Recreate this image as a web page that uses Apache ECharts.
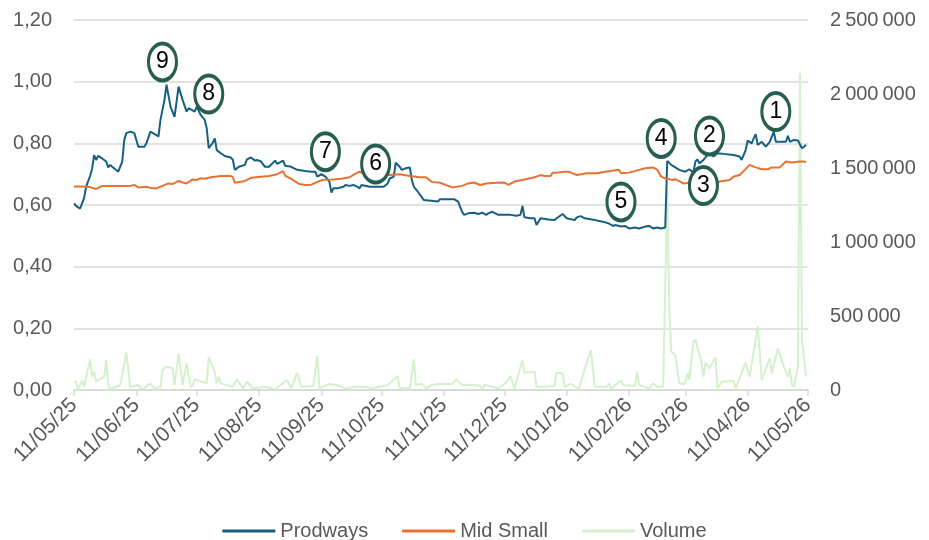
<!DOCTYPE html>
<html><head><meta charset="utf-8">
<script src="https://cdn.jsdelivr.net/npm/echarts@6/dist/echarts.min.js"></script>
<style>html,body{margin:0;padding:0;background:#fff}#c{width:929px;height:540px}</style>
</head><body><div id="c"></div>
<script>
const tickDates = ['2025-05-11','2025-06-11','2025-07-11','2025-08-11','2025-09-11','2025-10-11','2025-11-11','2025-12-11','2026-01-11','2026-02-11','2026-03-11','2026-04-11','2026-05-11'];

const prodDates = ['2025-05-11','2025-05-12','2025-05-14','2025-05-16','2025-05-17','2025-05-19','2025-05-20','2025-05-21','2025-05-22','2025-05-23','2025-05-25','2025-05-27','2025-05-28','2025-05-29','2025-05-30','2025-06-02','2025-06-04','2025-06-05','2025-06-06','2025-06-08','2025-06-10','2025-06-12','2025-06-15','2025-06-16','2025-06-18','2025-06-21','2025-06-22','2025-06-23','2025-06-25','2025-06-26','2025-06-28','2025-06-30','2025-07-02','2025-07-04','2025-07-06','2025-07-07','2025-07-10','2025-07-11','2025-07-13','2025-07-15','2025-07-16','2025-07-17','2025-07-19','2025-07-20','2025-07-21','2025-07-23','2025-07-25','2025-07-28','2025-07-29','2025-07-30','2025-08-01','2025-08-04','2025-08-05','2025-08-07','2025-08-09','2025-08-10','2025-08-12','2025-08-14','2025-08-16','2025-08-19','2025-08-20','2025-08-23','2025-08-24','2025-08-27','2025-08-30','2025-09-03','2025-09-06','2025-09-08','2025-09-09','2025-09-11','2025-09-13','2025-09-15','2025-09-16','2025-09-17','2025-09-19','2025-09-22','2025-09-23','2025-09-25','2025-09-27','2025-09-29','2025-09-30','2025-10-01','2025-10-05','2025-10-08','2025-10-12','2025-10-14','2025-10-15','2025-10-17','2025-10-18','2025-10-20','2025-10-21','2025-10-23','2025-10-25','2025-10-26','2025-10-27','2025-10-29','2025-10-31','2025-11-01','2025-11-08','2025-11-09','2025-11-16','2025-11-18','2025-11-20','2025-11-21','2025-11-23','2025-11-26','2025-11-28','2025-11-30','2025-12-02','2025-12-03','2025-12-05','2025-12-08','2025-12-14','2025-12-17','2025-12-19','2025-12-20','2025-12-21','2025-12-24','2025-12-26','2025-12-27','2025-12-29','2026-01-02','2026-01-05','2026-01-06','2026-01-09','2026-01-11','2026-01-15','2026-01-16','2026-01-18','2026-01-20','2026-01-25','2026-01-29','2026-02-01','2026-02-03','2026-02-04','2026-02-07','2026-02-09','2026-02-11','2026-02-14','2026-02-16','2026-02-19','2026-02-21','2026-02-23','2026-02-25','2026-02-27','2026-03-01','2026-03-02','2026-03-04','2026-03-08','2026-03-11','2026-03-13','2026-03-15','2026-03-16','2026-03-17','2026-03-18','2026-03-20','2026-03-22','2026-03-23','2026-03-25','2026-03-27','2026-03-31','2026-04-04','2026-04-07','2026-04-08','2026-04-10','2026-04-11','2026-04-13','2026-04-14','2026-04-15','2026-04-16','2026-04-18','2026-04-20','2026-04-22','2026-04-23','2026-04-24','2026-04-25','2026-04-30','2026-05-01','2026-05-02','2026-05-04','2026-05-06','2026-05-08','2026-05-09','2026-05-10'];
const prodValues = [0.605,0.597,0.588,0.622,0.659,0.694,0.717,0.762,0.746,0.759,0.751,0.741,0.722,0.730,0.724,0.708,0.741,0.811,0.833,0.838,0.833,0.789,0.789,0.800,0.838,0.827,0.822,0.876,0.941,0.990,0.919,0.886,0.984,0.941,0.903,0.914,0.903,0.919,0.892,0.876,0.849,0.784,0.802,0.816,0.778,0.768,0.759,0.754,0.746,0.714,0.724,0.730,0.748,0.754,0.744,0.746,0.741,0.724,0.724,0.744,0.733,0.744,0.727,0.724,0.714,0.710,0.708,0.708,0.692,0.700,0.692,0.676,0.640,0.654,0.654,0.659,0.665,0.662,0.665,0.659,0.654,0.665,0.659,0.659,0.659,0.670,0.686,0.692,0.737,0.724,0.714,0.719,0.722,0.681,0.659,0.643,0.625,0.616,0.611,0.619,0.619,0.611,0.578,0.568,0.573,0.575,0.571,0.575,0.568,0.573,0.578,0.568,0.568,0.565,0.568,0.597,0.560,0.557,0.557,0.535,0.557,0.553,0.551,0.557,0.571,0.557,0.551,0.560,0.564,0.557,0.551,0.546,0.540,0.532,0.535,0.530,0.532,0.524,0.527,0.524,0.530,0.532,0.524,0.527,0.524,0.527,0.743,0.730,0.714,0.708,0.716,0.705,0.741,0.748,0.735,0.746,0.762,0.770,0.757,0.768,0.765,0.762,0.757,0.746,0.778,0.809,0.800,0.816,0.830,0.795,0.805,0.789,0.805,0.822,0.838,0.805,0.805,0.824,0.805,0.811,0.809,0.784,0.789,0.795];

const midDates = ['2025-05-11','2025-05-14','2025-05-19','2025-05-22','2025-05-25','2025-05-31','2025-06-08','2025-06-10','2025-06-12','2025-06-16','2025-06-19','2025-06-21','2025-06-24','2025-06-27','2025-06-29','2025-07-02','2025-07-04','2025-07-06','2025-07-09','2025-07-11','2025-07-13','2025-07-15','2025-07-18','2025-07-23','2025-07-28','2025-07-29','2025-07-30','2025-08-04','2025-08-07','2025-08-12','2025-08-16','2025-08-20','2025-08-23','2025-08-24','2025-08-27','2025-08-31','2025-09-03','2025-09-06','2025-09-09','2025-09-12','2025-09-17','2025-09-21','2025-09-25','2025-09-28','2025-09-30','2025-10-03','2025-10-06','2025-10-10','2025-10-15','2025-10-20','2025-10-25','2025-10-30','2025-11-02','2025-11-05','2025-11-09','2025-11-15','2025-11-20','2025-11-23','2025-11-26','2025-11-29','2025-12-02','2025-12-07','2025-12-11','2025-12-13','2025-12-16','2025-12-21','2025-12-26','2025-12-29','2025-12-31','2026-01-03','2026-01-04','2026-01-06','2026-01-10','2026-01-12','2026-01-16','2026-01-21','2026-01-26','2026-01-30','2026-02-06','2026-02-07','2026-02-11','2026-02-16','2026-02-19','2026-02-23','2026-02-25','2026-02-27','2026-03-01','2026-03-05','2026-03-06','2026-03-10','2026-03-13','2026-03-15','2026-03-20','2026-03-24','2026-03-28','2026-04-02','2026-04-04','2026-04-07','2026-04-12','2026-04-15','2026-04-18','2026-04-21','2026-04-23','2026-04-27','2026-04-30','2026-05-03','2026-05-07','2026-05-09','2026-05-10'];
const midValues = [0.660,0.660,0.658,0.652,0.662,0.662,0.662,0.665,0.657,0.659,0.654,0.654,0.662,0.670,0.668,0.678,0.673,0.670,0.683,0.681,0.687,0.685,0.690,0.694,0.694,0.690,0.672,0.678,0.688,0.692,0.694,0.700,0.710,0.695,0.685,0.668,0.665,0.666,0.675,0.682,0.683,0.685,0.690,0.702,0.708,0.700,0.704,0.700,0.697,0.700,0.694,0.690,0.690,0.675,0.672,0.657,0.662,0.670,0.673,0.665,0.670,0.672,0.673,0.665,0.676,0.683,0.690,0.697,0.694,0.694,0.705,0.705,0.708,0.708,0.697,0.703,0.703,0.708,0.714,0.703,0.705,0.714,0.719,0.722,0.714,0.692,0.686,0.681,0.684,0.670,0.672,0.665,0.654,0.659,0.676,0.681,0.692,0.697,0.730,0.722,0.716,0.716,0.722,0.722,0.741,0.738,0.741,0.741,0.738];

const volDates = ['2025-05-11','2025-05-12','2025-05-13','2025-05-15','2025-05-16','2025-05-19','2025-05-20','2025-05-21','2025-05-22','2025-05-26','2025-05-27','2025-05-28','2025-05-29','2025-06-03','2025-06-06','2025-06-08','2025-06-12','2025-06-14','2025-06-18','2025-06-20','2025-06-23','2025-06-24','2025-06-26','2025-06-29','2025-06-30','2025-07-02','2025-07-04','2025-07-06','2025-07-08','2025-07-09','2025-07-10','2025-07-16','2025-07-17','2025-07-20','2025-07-21','2025-07-22','2025-07-23','2025-07-29','2025-07-31','2025-08-03','2025-08-05','2025-08-08','2025-08-14','2025-08-19','2025-08-25','2025-08-27','2025-08-30','2025-09-01','2025-09-07','2025-09-09','2025-09-10','2025-09-15','2025-09-20','2025-09-23','2025-09-28','2025-10-03','2025-10-06','2025-10-14','2025-10-19','2025-10-20','2025-10-25','2025-10-27','2025-10-28','2025-10-31','2025-11-02','2025-11-05','2025-11-09','2025-11-15','2025-11-17','2025-11-20','2025-11-24','2025-11-29','2025-11-30','2025-12-01','2025-12-08','2025-12-12','2025-12-14','2025-12-16','2025-12-20','2025-12-21','2025-12-26','2025-12-27','2025-12-31','2026-01-05','2026-01-06','2026-01-09','2026-01-10','2026-01-13','2026-01-17','2026-01-23','2026-01-25','2026-01-31','2026-02-01','2026-02-02','2026-02-07','2026-02-08','2026-02-14','2026-02-15','2026-02-16','2026-02-21','2026-02-23','2026-02-25','2026-02-28','2026-03-02','2026-03-03','2026-03-04','2026-03-06','2026-03-08','2026-03-10','2026-03-11','2026-03-12','2026-03-13','2026-03-15','2026-03-16','2026-03-19','2026-03-20','2026-03-21','2026-03-23','2026-03-26','2026-03-27','2026-03-29','2026-04-04','2026-04-05','2026-04-10','2026-04-12','2026-04-16','2026-04-18','2026-04-22','2026-04-23','2026-04-26','2026-04-29','2026-05-01','2026-05-02','2026-05-03','2026-05-04','2026-05-06','2026-05-07','2026-05-08','2026-05-10'];
const volValues = [56000,56000,5000,63000,22000,207000,90000,124000,56000,90000,203000,45000,5000,34000,252000,22000,34000,5000,45000,10000,22000,135000,158000,147000,34000,248000,34000,180000,22000,29000,72000,45000,221000,124000,45000,90000,45000,22000,72000,11000,56000,11000,22000,5000,68000,11000,117000,22000,27000,230000,11000,41000,29000,11000,22000,22000,11000,34000,95000,11000,11000,207000,34000,41000,11000,34000,41000,41000,72000,34000,36000,29000,3000,36000,11000,52000,95000,11000,203000,117000,124000,22000,22000,27000,117000,113000,22000,41000,11000,270000,22000,22000,45000,11000,63000,34000,29000,124000,34000,11000,45000,22000,22000,1350000,563000,259000,236000,45000,41000,45000,113000,72000,326000,342000,191000,90000,185000,147000,221000,11000,56000,63000,11000,185000,90000,432000,68000,214000,113000,282000,158000,90000,147000,34000,22000,158000,2140000,340000,90000];

const annoLabels = ['1','2','3','4','5','6','7','8','9'];
const annoDates = ['2026-04-25','2026-03-23','2026-03-20','2026-02-27','2026-02-07','2025-10-08','2025-09-13','2025-07-17','2025-06-24'];
const annoValues = [0.903,0.824,0.663,0.816,0.610,0.733,0.773,0.960,1.064];

function toTs(s){const p=s.split('-').map(Number);return new Date(p[0],p[1]-1,p[2]).getTime();}
function pair(d,v){return d.map(function(x,i){return [toTs(x),v[i]];});}
function pad(n){return (n<10?'0':'')+n;}
const FONT = 'Liberation Sans';
const GREY = '#595959';
const ellipse = 'path://M0,50 A50,50 0 1,0 100,50 A50,50 0 1,0 0,50 Z';
const tickTs = tickDates.map(toTs);

const chart = echarts.init(document.getElementById('c'), null, {renderer:'canvas'});
chart.setOption({
  animation:false,
  backgroundColor:'#ffffff',
  textStyle:{fontFamily:FONT},
  grid:{left:74,right:121,top:20,bottom:150,containLabel:false},
  legend:{
    top:516, left:'center', itemGap:34, itemWidth:53, itemHeight:3, icon:'rect',
    textStyle:{fontFamily:FONT,fontSize:20,color:GREY},
    data:['Prodways','Mid Small','Volume']
  },
  xAxis:{
    type:'value', min:tickTs[0], max:tickTs[tickTs.length-1],
    axisLine:{show:true,lineStyle:{color:'#d9d9d9',width:1.5}},
    axisTick:{show:true,length:6,customValues:tickTs,lineStyle:{color:'#d9d9d9',width:1.5}},
    splitLine:{show:false},
    axisLabel:{
      customValues:tickTs, rotate:45, margin:12,
      fontFamily:FONT, fontSize:21, color:GREY,
      formatter:function(v){const d=new Date(v);return pad(d.getDate())+'/'+pad(d.getMonth()+1)+'/'+String(d.getFullYear()).slice(2);}
    }
  },
  yAxis:[{
    type:'value', min:0, max:1.2, interval:0.2,
    axisLine:{show:false}, axisTick:{show:false},
    splitLine:{lineStyle:{color:'#d9d9d9',width:1.5}},
    axisLabel:{margin:22,fontFamily:FONT,fontSize:20,color:GREY,formatter:function(v){return v.toFixed(2).replace('.',',');}}
  },{
    type:'value', min:0, max:2500000, interval:500000,
    axisLine:{show:false}, axisTick:{show:false}, splitLine:{show:false},
    axisLabel:{margin:22,fontFamily:FONT,fontSize:20,color:GREY,formatter:function(v){return String(v).replace(/\B(?=(\d{3})+(?!\d))/g,'\u202F');}}
  }],
  series:[{
    name:'Prodways', type:'line', yAxisIndex:0, showSymbol:false, symbol:'none',
    data:pair(prodDates,prodValues), lineStyle:{color:'#156082',width:2}, itemStyle:{color:'#156082'}, z:3,
    markPoint:{
      symbol:ellipse, symbolSize:[28,37], symbolKeepAspect:false,
      itemStyle:{color:'#ffffff',borderColor:'#275e50',borderWidth:3.5},
      label:{show:true,position:'inside',color:'#000000',fontFamily:FONT,fontSize:23,formatter:function(p){return p.name;}},
      data:annoLabels.map(function(l,i){return {name:l,coord:[toTs(annoDates[i]),annoValues[i]]};}),
      z:10
    }
  },{
    name:'Mid Small', type:'line', yAxisIndex:0, showSymbol:false, symbol:'none',
    data:pair(midDates,midValues), lineStyle:{color:'#E97132',width:2}, itemStyle:{color:'#E97132'}, z:3
  },{
    name:'Volume', type:'line', yAxisIndex:1, showSymbol:false, symbol:'none',
    data:pair(volDates,volValues), lineStyle:{color:'#d5f0cc',width:2}, itemStyle:{color:'#d5f0cc'}, z:2
  }]
});
</script></body></html>
